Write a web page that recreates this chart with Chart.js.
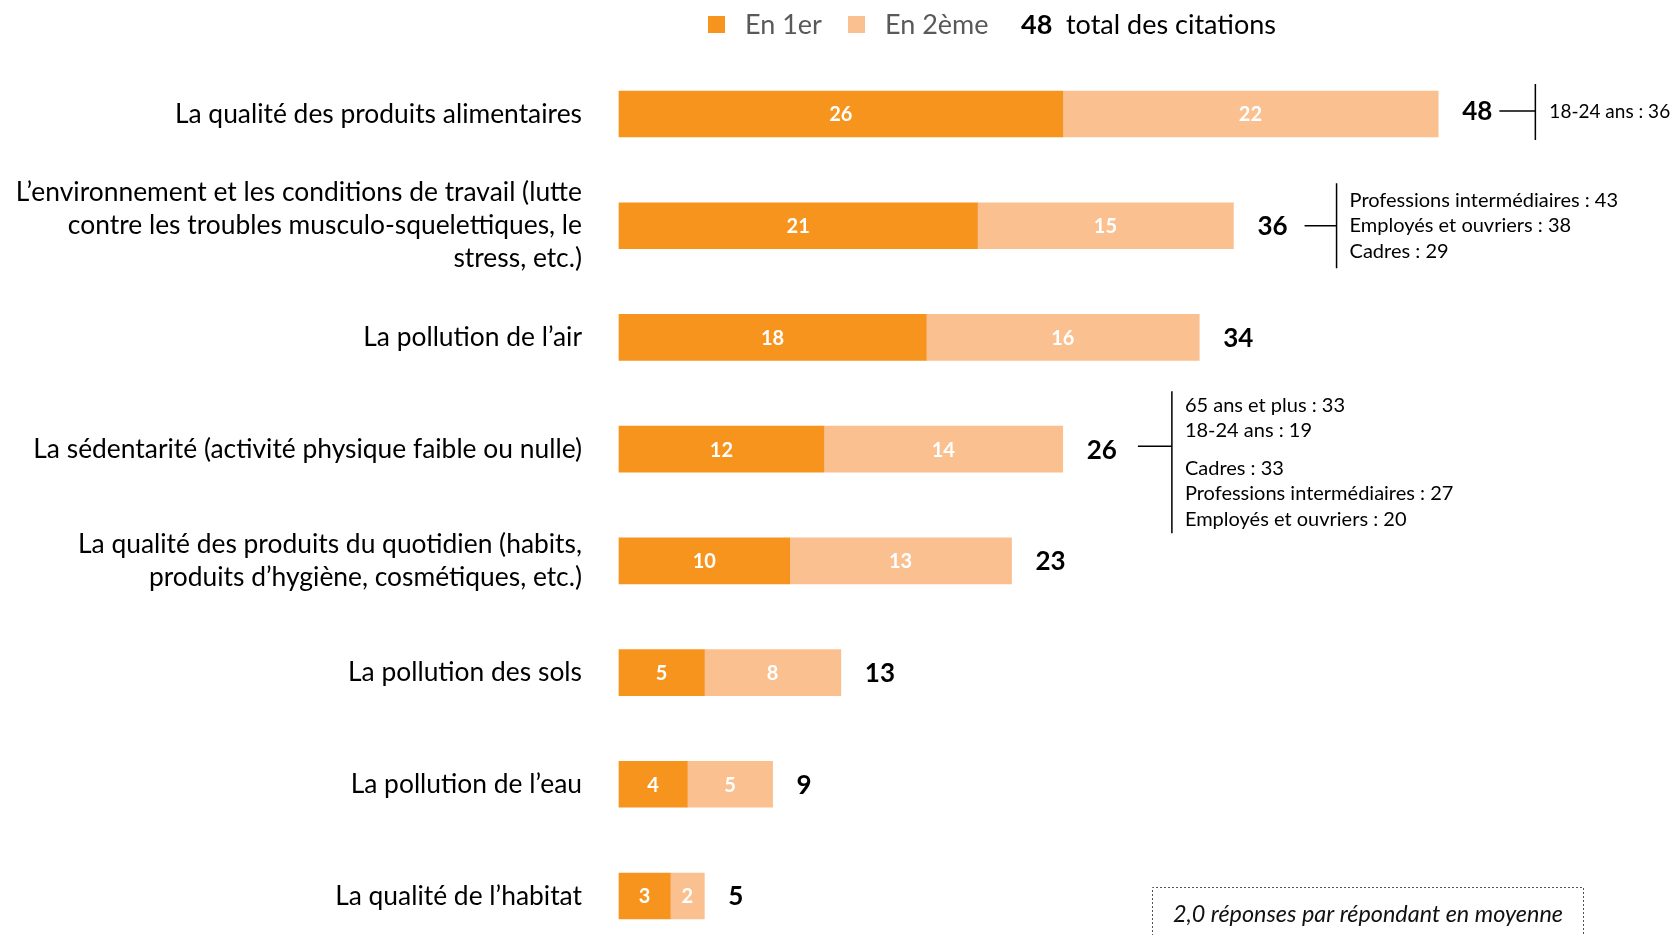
<!DOCTYPE html>
<html><head><meta charset="utf-8">
<script src="https://cdn.jsdelivr.net/npm/chart.js@4/dist/chart.umd.min.js"></script>
<style>html,body{margin:0;padding:0;background:#fff;overflow:hidden}#wrap{width:1677px;height:935px;position:relative}</style>
</head><body><div id="wrap"><canvas id="c" width="1677" height="935"></canvas></div>
<script>
const categories = [
  'La qualité des produits alimentaires',
  ["L\u2019environnement et les conditions de travail (lutte", 'contre les troubles musculo-squelettiques, le', 'stress, etc.)'],
  "La pollution de l\u2019air",
  'La sédentarité (activité physique faible ou nulle)',
  ['La qualité des produits du quotidien (habits,', "produits d\u2019hygiène, cosmétiques, etc.)"],
  'La pollution des sols',
  "La pollution de l\u2019eau",
  "La qualité de l\u2019habitat"
];
const en1er = [26, 21, 18, 12, 10, 5, 4, 3];
const en2eme = [22, 15, 16, 14, 13, 8, 5, 2];
const totals = [48, 36, 34, 26, 23, 13, 9, 5];
const seriesNames = ['En 1er', 'En 2ème'];
const legendTotal = '48';
const legendTotalText = 'total des citations';
const footnote = '2,0 réponses par répondant en moyenne';
const annotationIndex = [0, 1, 3];
const annotationGroups = [
  [['18-24 ans : 36']],
  [['Professions intermédiaires : 43', 'Employés et ouvriers : 38', 'Cadres : 29']],
  [['65 ans et plus : 33', '18-24 ans : 19'], ['Cadres : 33', 'Professions intermédiaires : 27', 'Employés et ouvriers : 20']]
];

const C1 = '#F7941D', C2 = '#FAC090';
const FONT = 'Lato';
const annStyle = [
  {gap: 7, len: 36, tgap: 14, pad: 28, dy: -2, ly: -3, fs: 19},
  {gap: 17, len: 32, tgap: 13, pad: 17, dy: 0, ly: 0, fs: 20},
  {gap: 21, len: 34, tgap: 13, pad: 14, dy: 13, ly: -3, fs: 20}
];
const totalDy = [-3, 0, 0, 0, 0, 0, 0, 0];

const overlay = {
  id: 'overlay',
  afterDatasetsDraw(chart) {
    const ctx = chart.ctx;
    const m0 = chart.getDatasetMeta(0), m1 = chart.getDatasetMeta(1);
    ctx.save();
    ctx.fillStyle = '#fff';
    ctx.font = 'bold 20px ' + FONT;
    ctx.textAlign = 'center';
    ctx.textBaseline = 'middle';
    [m0, m1].forEach(m => {
      m.data.forEach((el, i) => {
        const v = chart.data.datasets[m.index].data[i];
        ctx.fillText(String(v), (el.x + el.base) / 2, el.y + 1);
      });
    });
    ctx.fillStyle = '#000';
    ctx.font = 'bold 26px ' + FONT;
    ctx.textAlign = 'left';
    const totalEnds = [];
    m1.data.forEach((el, i) => {
      const x = el.x + 24;
      ctx.fillText(String(totals[i]), x, el.y + 1 + totalDy[i]);
      totalEnds[i] = x + ctx.measureText(String(totals[i])).width;
    });
    ctx.strokeStyle = '#000';
    ctx.lineWidth = 1.5;
    annotationIndex.forEach((idx, k) => {
      const st = annStyle[k];
      ctx.font = st.fs + 'px ' + FONT;
      const el = m1.data[idx];
      const yMid = el.y + st.ly;
      const x0 = totalEnds[idx] + st.gap;
      const xv = x0 + st.len;
      const lh = 25.5, groupGap = 12;
      const groups = annotationGroups[k];
      let n = 0; groups.forEach(g => n += g.length);
      const blockH = (n - 1) * lh + (groups.length - 1) * groupGap;
      let y = el.y + st.dy - blockH / 2;
      const yFirst = y;
      ctx.beginPath();
      ctx.moveTo(x0, yMid); ctx.lineTo(xv, yMid);
      ctx.moveTo(xv, yFirst - st.pad); ctx.lineTo(xv, yFirst + blockH + st.pad);
      ctx.stroke();
      ctx.textBaseline = 'middle';
      groups.forEach(g => {
        g.forEach(line => { ctx.fillText(line, xv + st.tgap, y); y += lh; });
        y += groupGap;
      });
    });
    ctx.textBaseline = 'middle';
    ctx.font = '27px ' + FONT;
    const ly = 25;
    ctx.fillStyle = C1; ctx.fillRect(708, 16, 17, 17);
    ctx.fillStyle = '#595959'; ctx.fillText(seriesNames[0], 745, ly);
    ctx.fillStyle = C2; ctx.fillRect(848, 16, 17, 17);
    ctx.fillStyle = '#595959'; ctx.fillText(seriesNames[1], 885, ly);
    ctx.fillStyle = '#000'; ctx.font = 'bold 27px ' + FONT; ctx.fillText(legendTotal, 1021, ly);
    ctx.font = '27px ' + FONT; ctx.fillText(legendTotalText, 1066, ly);
    ctx.strokeStyle = '#555'; ctx.lineWidth = 1; ctx.setLineDash([2, 2]);
    ctx.beginPath();
    ctx.moveTo(1152.5, 940); ctx.lineTo(1152.5, 887.5); ctx.lineTo(1583.5, 887.5); ctx.lineTo(1583.5, 940);
    ctx.stroke();
    ctx.setLineDash([]);
    ctx.font = 'italic 23.4px ' + FONT; ctx.textAlign = 'center'; ctx.fillStyle = '#111';
    ctx.fillText(footnote, 1368, 914);
    ctx.restore();
  }
};

new Chart(document.getElementById('c'), {
  type: 'bar',
  data: {
    labels: categories,
    datasets: [
      {label: seriesNames[0], data: en1er, backgroundColor: C1, barThickness: 46, clip: false},
      {label: seriesNames[1], data: en2eme, backgroundColor: C2, barThickness: 46, clip: false}
    ]
  },
  options: {
    indexAxis: 'y',
    responsive: false,
    animation: false,
    layout: {padding: {top: 114, bottom: 39, left: 0, right: 34}},
    plugins: {legend: {display: false}, tooltip: {enabled: false}},
    scales: {
      x: {stacked: true, min: 0, max: 60, display: false},
      y: {
        stacked: true, offset: false,
        grid: {display: false, drawTicks: false}, border: {display: false},
        ticks: {autoSkip: false, padding: 37, color: '#000', font: {family: FONT, size: 26.4, lineHeight: 1.25}},
        afterFit(scale) { scale.width = 619; scale.paddingTop = 0; scale.paddingBottom = 0; }
      }
    }
  },
  plugins: [overlay]
});
</script>
</body></html>
